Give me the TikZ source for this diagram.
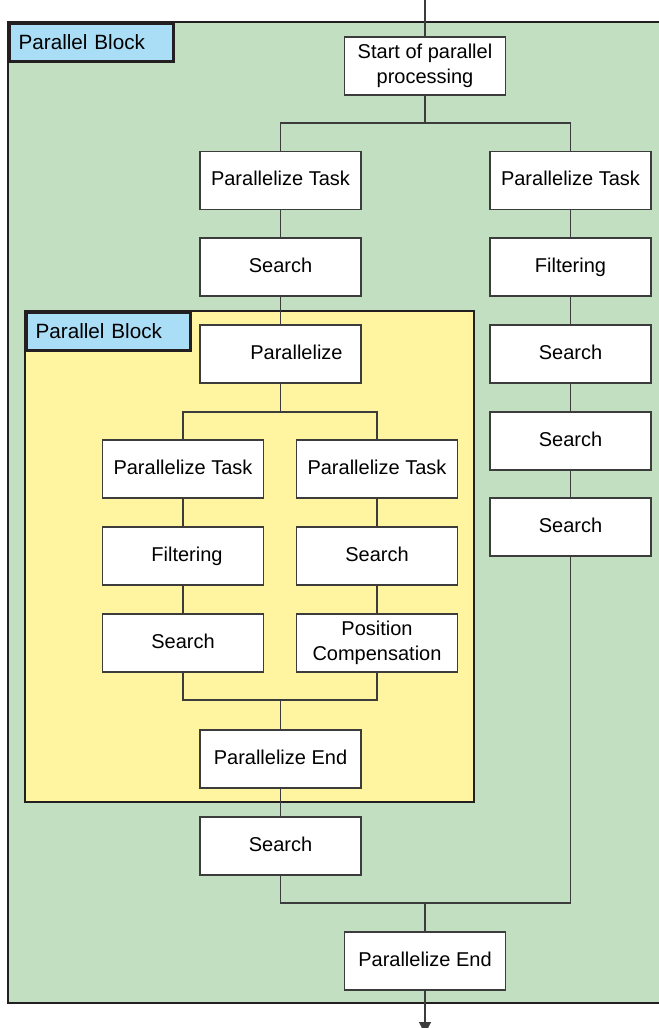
\documentclass[tikz,border=0pt]{standalone}
\usepackage{fontspec}
\setmainfont{Liberation Sans}
\usetikzlibrary{arrows.meta}

\definecolor{blockgreen}{RGB}{194,224,193}
\definecolor{blockyellow}{RGB}{255,245,160}
\definecolor{tagblue}{RGB}{170,221,246}
\definecolor{frameline}{RGB}{35,31,32}
\definecolor{boxline}{RGB}{60,60,60}

\begin{document}
\begin{tikzpicture}[x=0.75pt,y=-0.75pt,>=Triangle,line join=miter,
    stepbox/.style={draw=boxline,fill=white,line width=.8pt,
      minimum width=120.75pt,minimum height=43.5pt,inner sep=0pt,
      align=center,font=\fontsize{15}{19}\selectfont,
      execute at begin node=\vphantom{g}},
    blockframe/.style={draw=frameline,line width=2pt},
    blocktag/.style={draw=frameline,fill=tagblue,line width=2pt,
      anchor=north west,minimum height=28.5pt,inner xsep=7pt,
      text width=109pt,align=left,font=\fontsize{15.5}{19}\selectfont},
    link/.style={draw=boxline,line width=.8pt}]
    \clip (0,0) rectangle (659,1028);

    % Outer parallel block.
    \draw[blockframe,fill=blockgreen] (8,22) rectangle (690,1003);
    \node[blocktag] (outertag) at (8,22) {Parallel Block};

    % Inner parallel block.
    \draw[blockframe,fill=blockyellow] (25,311) rectangle (474,802);
    \node[blocktag] (innertag) at (25,311) {Parallel Block};

    % Main column.
    \node[stepbox] (start) at (425,66) {Start of parallel\\processing};
    \node[stepbox] (ptL) at (280.5,180.5) {Parallelize Task};
    \node[stepbox] (srchL) at (280.5,267) {Search};
    \node[stepbox] (par) at (280.5,354) {\hspace*{24pt}Parallelize};
    \node[stepbox] (iptL) at (183,469) {Parallelize Task};
    \node[stepbox] (iptR) at (377,469) {Parallelize Task};
    \node[stepbox] (ifilt) at (183,556) {\hspace*{6pt}Filtering};
    \node[stepbox] (isrchR) at (377,556) {Search};
    \node[stepbox] (isrchL) at (183,643) {Search};
    \node[stepbox] (ipos) at (377,643) {Position\\Compensation};
    \node[stepbox] (iend) at (280.5,759) {Parallelize End};
    \node[stepbox] (srchO) at (280.5,846) {Search};
    \node[stepbox] (endO) at (425,961) {Parallelize End};

    % Right column.
    \node[stepbox] (ptR) at (570.5,180.5) {Parallelize Task};
    \node[stepbox] (filtR) at (570.5,267) {Filtering};
    \node[stepbox] (rs1) at (570.5,354) {Search};
    \node[stepbox] (rs2) at (570.5,441) {Search};
    \node[stepbox] (rs3) at (570.5,527) {Search};

    % Branch and join points.
    \coordinate (entry) at (425,0);
    \coordinate (exit) at (425,1034);
    \coordinate (split1) at (425,123);
    \coordinate (split2) at (280.5,412);
    \coordinate (join2) at (280.5,700);
    \coordinate (join1) at (425,903);

    \draw[link] (entry) -- (start);
    \draw[link] (start) -- (split1);
    \draw[link] (ptL.north) |- (split1);
    \draw[link] (ptR.north) |- (split1);
    \draw[link] (ptL) -- (srchL);
    \draw[link] (srchL) -- (par);
    \draw[link] (par) -- (split2);
    \draw[link] (iptL.north) |- (split2);
    \draw[link] (iptR.north) |- (split2);
    \draw[link] (iptL) -- (ifilt);
    \draw[link] (ifilt) -- (isrchL);
    \draw[link] (iptR) -- (isrchR);
    \draw[link] (isrchR) -- (ipos);
    \draw[link] (isrchL.south) |- (join2);
    \draw[link] (ipos.south) |- (join2);
    \draw[link] (join2) -- (iend);
    \draw[link] (iend) -- (srchO);
    \draw[link] (ptR) -- (filtR);
    \draw[link] (filtR) -- (rs1);
    \draw[link] (rs1) -- (rs2);
    \draw[link] (rs2) -- (rs3);
    \draw[link] (srchO.south) |- (join1);
    \draw[link] (rs3.south) |- (join1);
    \draw[link] (join1) -- (endO);
    \draw[link,-{Triangle[width=9pt,length=9pt]}] (endO) -- (exit);
\end{tikzpicture}
\end{document}
